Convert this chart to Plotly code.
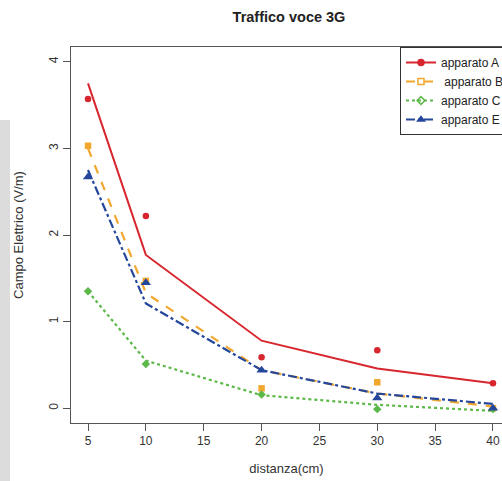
import plotly.graph_objects as go

distanza = [5, 10, 20, 30, 40]

# measured points
punti_A = [3.57, 2.22, 0.59, 0.67, 0.29]
punti_B = [3.03, 1.47, 0.23, 0.30, 0.00]
punti_C = [1.35, 0.51, 0.16, -0.01, -0.01]
punti_E = [2.67, 1.45, 0.44, 0.12, 0.00]

# fitted curves
curva_A = [3.75, 1.77, 0.78, 0.46, 0.29]
curva_B = [3.00, 1.33, 0.44, 0.17, 0.02]
curva_C = [1.35, 0.55, 0.15, 0.04, -0.03]
curva_E = [2.75, 1.21, 0.44, 0.17, 0.05]

nomi = ["apparato A", " apparato B", "apparato C", "apparato E"]
colori = ["#d8262e", "#f2a82e", "#5cb848", "#24479c"]
dash = ["solid", "dash", "dot", "dashdot"]
simboli_punti = ["circle", "square", "diamond", "triangle-up"]
simboli_legenda = ["circle", "square-open", "diamond-open", "triangle-up"]

punti = [punti_A, punti_B, punti_C, punti_E]
curve = [curva_A, curva_B, curva_C, curva_E]

fig = go.Figure()
for i in range(4):
    fig.add_trace(go.Scatter(x=distanza, y=curve[i], mode="lines",
                             line=dict(color=colori[i], width=2 if i == 0 else 2.2, dash=dash[i]),
                             showlegend=False, hoverinfo="skip"))
    fig.add_trace(go.Scatter(x=distanza, y=punti[i], mode="markers",
                             marker=dict(color=colori[i], symbol=simboli_punti[i], size=6.5 if i != 3 else 9),
                             showlegend=False))
for i in range(4):
    fig.add_trace(go.Scatter(x=[None], y=[None], mode="lines+markers", name=nomi[i],
                             line=dict(color=colori[i], width=2, dash=dash[i]),
                             marker=dict(color=colori[i], symbol=simboli_legenda[i], size=6,
                                         line=dict(color=colori[i], width=1.5))))

fig.update_layout(
    width=502, height=481,
    margin=dict(l=71, r=0, t=47, b=58, autoexpand=False),
    paper_bgcolor="white", plot_bgcolor="white",
    font=dict(family="Liberation Sans, Arial", size=12, color="#333"),
    title=dict(text="<b>Traffico voce 3G</b>", x=289/502, xanchor="center", y=1 - 17/481, yanchor="middle",
               font=dict(size=14.5, color="#222")),
    xaxis=dict(range=[3.53, 40.78], tickvals=[5, 10, 15, 20, 25, 30, 35, 40],
               showline=True, linecolor="#555", linewidth=1, mirror=True,
               ticks="outside", ticklen=7, tickcolor="#555", showgrid=False, zeroline=False,
               automargin=False,
               title=dict(text="distanza(cm)", standoff=16, font=dict(size=13)),
               tickfont=dict(size=12, color="#333")),
    yaxis=dict(range=[-0.17, 4.17], tickvals=[0, 1, 2, 3, 4],
               showline=True, linecolor="#555", linewidth=1, mirror=False,
               ticks="outside", ticklen=7, tickcolor="#555", showgrid=False, zeroline=False,
               tickangle=-90, automargin=False,
               title=dict(text="Campo Elettrico (V/m)", standoff=20, font=dict(size=13)),
               tickfont=dict(size=12, color="#333")),
    legend=dict(x=(400 - 71) / 431, y=1, xanchor="left", yanchor="top",
                bordercolor="#333", borderwidth=1, bgcolor="white",
                font=dict(size=12, color="#222"), tracegroupgap=0, itemwidth=30),
    shapes=[dict(type="rect", xref="paper", yref="paper",
                 x0=-71 / 431, x1=-61 / 431, y0=(423 - 481) / 376, y1=(423 - 120) / 376,
                 fillcolor="#dcdcdc", line=dict(width=0), layer="below")],
)

fig.write_html("out.html", config={"displayModeBar": False},
               post_script="document.body.style.margin='0';document.body.style.overflow='hidden';")
